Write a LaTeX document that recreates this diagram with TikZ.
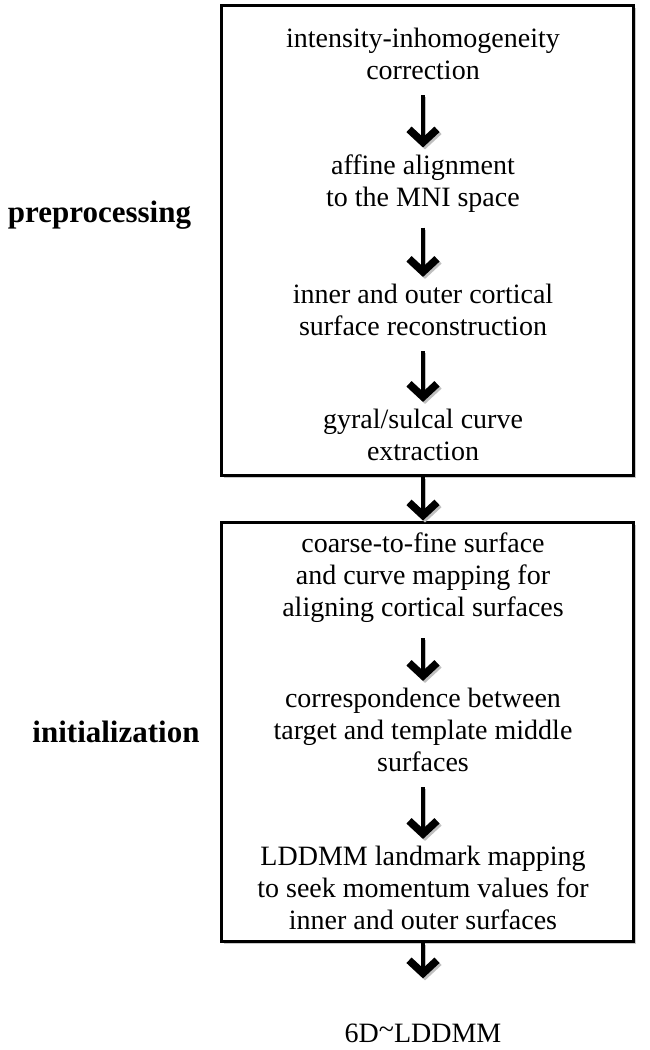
\documentclass[tikz,border=0pt]{standalone}
\usepackage{fontspec}
\setmainfont{Liberation Serif}
\usetikzlibrary{arrows.meta,positioning,shadows}

\begin{document}
\begin{tikzpicture}[x=1pt,y=1pt,
			stepbox/.style = {align=center, font=\fontsize{28}{32}\selectfont, inner sep=3pt},
			stage/.style   = {draw, fill=white, line width=3pt, minimum width=412pt,
				drop shadow={shadow xshift=2.5pt, shadow yshift=-2.5pt, opacity=0.3, fill=black!70}},
			phase/.style   = {font=\fontsize{31}{36}\selectfont\bfseries},
			arr/.style     = {-{Straight Barb[length=13pt,width=28pt,line width=4pt 1]}, line width=3.5pt,
				shorten <=12pt, shorten >=4pt,
				preaction={draw=black!25, transform canvas={shift={(2pt,-2pt)}}}},
			>=latex]
			\useasboundingbox (0,0) rectangle (649,1050);
			
			% the two stage frames
			\node[stage, minimum height=470pt] (box1) at (427.5,809) {};
			\node[stage, minimum height=419pt] (box2) at (427.5,317.5) {};
			
			\node[phase] (pre) at (99.5,835) {preprocessing};
			\node[phase] (ini) at (116,318) {initialization};
			
			\begin{scope}[every node/.style={stepbox}]
				\node (s1) at (423,996) {intensity-inhomogeneity\\correction};
				\node (s2) at (423,866.5) {affine alignment\\to the MNI space};
				\node (s3) at (423,740) {inner and outer cortical\\surface reconstruction};
				\node (s4) at (423,615) {gyral/sulcal curve\\extraction};
				
				\node (s5) at (423,472) {coarse-to-fine surface\\and curve mapping for\\aligning cortical surfaces};
				\node (s6) at (423,320) {correspondence between\\target and template middle\\surfaces};
				\node (s7) at (423,162) {LDDMM landmark mapping\\to seek momentum values for\\inner and outer surfaces};
				
				\node (out) at (423,17) {6D\raisebox{0.12em}{\char`\~}LDDMM};
			\end{scope}
			
			\foreach \a/\b in {s1/s2, s2/s3, s3/s4, s5/s6, s6/s7}
			\draw[arr] (\a) -- (\b);
			
			\draw[arr, shorten <=0pt, shorten >=1pt] (s4 |- box1.south) -- (s4 |- box2.north);
			\draw[arr, shorten <=0pt, shorten >=42pt] (s7 |- box2.south) -- (out);
		\end{tikzpicture}
\end{document}
